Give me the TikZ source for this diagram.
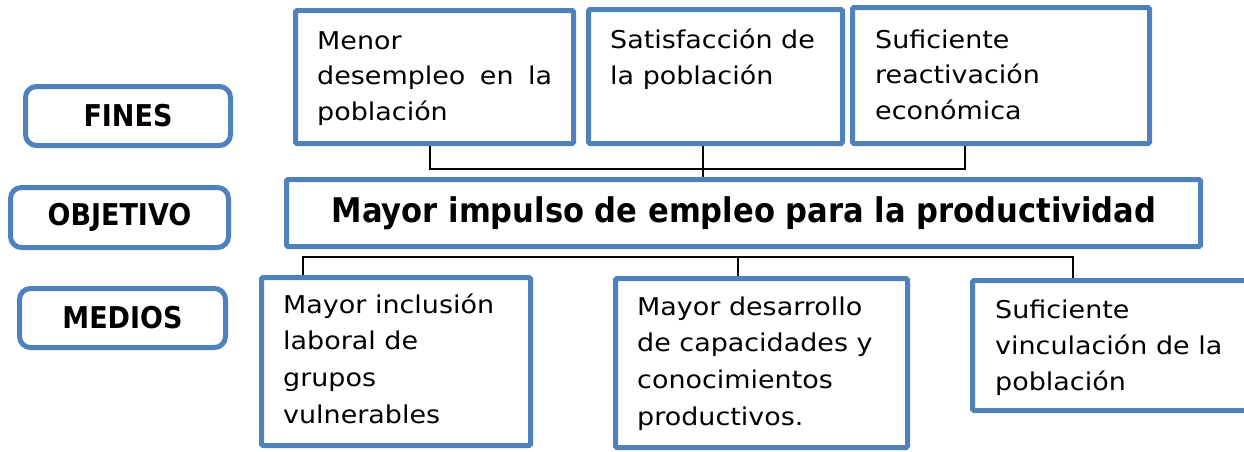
\documentclass[tikz,border=0pt]{standalone}
\usepackage{fontspec}
\setmainfont{DejaVu Sans}[FakeStretch=1.1]
\newfontfamily\boldface{DejaVu Sans Bold}[FakeStretch=0.9]
\definecolor{boxblue}{HTML}{4F81BD}
\begin{document}
\begin{tikzpicture}[x=1pt,y=-1pt,
  bx/.style={draw=boxblue,line width=5pt,fill=white,rounded corners=1.5pt,inner sep=0pt,anchor=center},
  lbl/.style={draw=boxblue,line width=5pt,fill=white,rounded corners=11pt,inner sep=0pt,anchor=center,font=\boldface\fontsize{30}{34}\selectfont},
  tx/.style={anchor=base west,inner sep=0pt,align=left,font=\fontsize{24.5}{35.3}\selectfont},
  txb/.style={tx,font=\fontsize{24.5}{36.6}\selectfont},
  conn/.style={draw=black,line width=1.8pt}]
\useasboundingbox (0,0) rectangle (1244,451);
\clip (0,0) rectangle (1244,451);
% label boxes
\node[lbl,minimum width=205pt,minimum height=59pt] (fines) at (128,116) {FINES};
\node[lbl,minimum width=218pt,minimum height=60pt] (objl) at (119.5,217.5) {OBJETIVO};
\node[lbl,minimum width=206pt,minimum height=59pt] (medl) at (122.5,318) {MEDIOS};
% top boxes
\node[bx,minimum width=278pt,minimum height=133pt] (f1) at (434.5,77) {};
\node[bx,minimum width=254pt,minimum height=134pt] (f2) at (715.5,76.5) {};
\node[bx,minimum width=297pt,minimum height=136pt] (f3) at (1001,75.5) {};
% objective
\node[bx,minimum width=914pt,minimum height=67pt] (obj) at (743.5,213) {};
% bottom boxes
\node[bx,minimum width=269pt,minimum height=168pt] (m1) at (396,361.5) {};
\node[bx,minimum width=292pt,minimum height=169pt] (m2) at (761.5,363) {};
\node[bx,minimum width=277pt,minimum height=130pt] (m3) at (1111,345.5) {};
% texts
\node[tx] (t1) at (317,120) {Menor\\\makebox[235pt][s]{desempleo en la}\\población};
\node[tx] (t2) at (610,84) {Satisfacción de\\la población};
\node[tx] (t3) at (875,119) {Suficiente\\reactivación\\económica};
\node[anchor=base,inner sep=0pt,font=\boldface\fontsize{34}{40}\selectfont] (tobj) at (744,222) {Mayor impulso de empleo para la productividad};
\node[txb] (t4) at (283,423) {Mayor inclusión\\laboral de\\grupos\\vulnerables};
\node[txb] (t5) at (637,425) {Mayor desarrollo\\de capacidades y\\conocimientos\\productivos.};
\node[tx,font=\fontsize{24.5}{36}\selectfont] (t6) at (995,390) {Suficiente\\vinculación de la\\población};
% top connectors
\coordinate (tl) at (430,169);
\coordinate (tm) at (703,169);
\coordinate (tr) at (965,169);
\draw[conn] (tl |- f1.south) -- (tl) -- (tr) -- (tr |- f3.south);
\draw[conn] (tm |- f2.south) -- (tm |- obj.north);
% bottom connectors
\coordinate (bl) at (303,257);
\coordinate (bm) at (738,257);
\coordinate (br) at (1073,257);
\draw[conn] (bl |- m1.north) -- (bl) -- (br) -- (br |- m3.north);
\draw[conn] (bm) -- (bm |- m2.north);
\end{tikzpicture}
\end{document}
